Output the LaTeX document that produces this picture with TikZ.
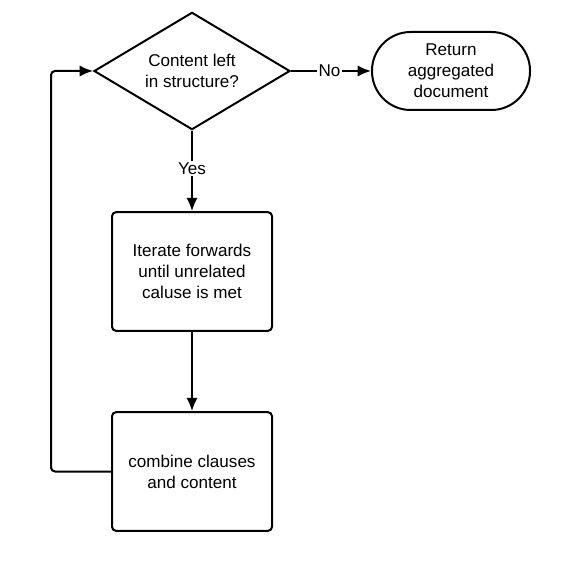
\documentclass[tikz,border=0pt]{standalone}
\usepackage{fontspec}
\setmainfont{Liberation Sans}
\usetikzlibrary{shapes.geometric,arrows.meta}
\begin{document}
\begin{tikzpicture}[x=0.75pt,y=-0.75pt,line width=1.5pt,
font=\fontsize{12.8}{15.8}\selectfont,>={Latex[length=10pt,width=8.5pt]},
decision/.style={diamond,draw,aspect=1.675,inner sep=0pt,minimum width=147pt,minimum height=88pt,align=center},
terminal/.style={rectangle,draw,rounded corners=29pt,minimum width=118.5pt,minimum height=58.5pt,align=center},
process/.style={rectangle,draw,rounded corners=3pt,minimum width=120pt,minimum height=89pt,align=center},
lbl/.style={fill=white,inner sep=1pt}]
\useasboundingbox (0,0) rectangle (572,577);
\node[decision] (dec) at (192,71) {Content left\\in structure?};
\node[terminal] (ret) at (451,71) {Return\\aggregated\\document};
\node[process] (iter) at (192,271.5) {Iterate forwards\\until unrelated\\caluse is met};
\node[process] (comb) at (192,471.5) {combine clauses\\and content};
\draw[->] (dec) -- node[lbl,pos=0.48]{No} (ret);
\draw[->] (dec) -- node[lbl,pos=0.47]{Yes} (iter);
\draw[->] (iter) -- (comb);
\draw[->,rounded corners=3pt] (comb.west) -- ++(-60,0) |- (dec.west);
\end{tikzpicture}
\end{document}
